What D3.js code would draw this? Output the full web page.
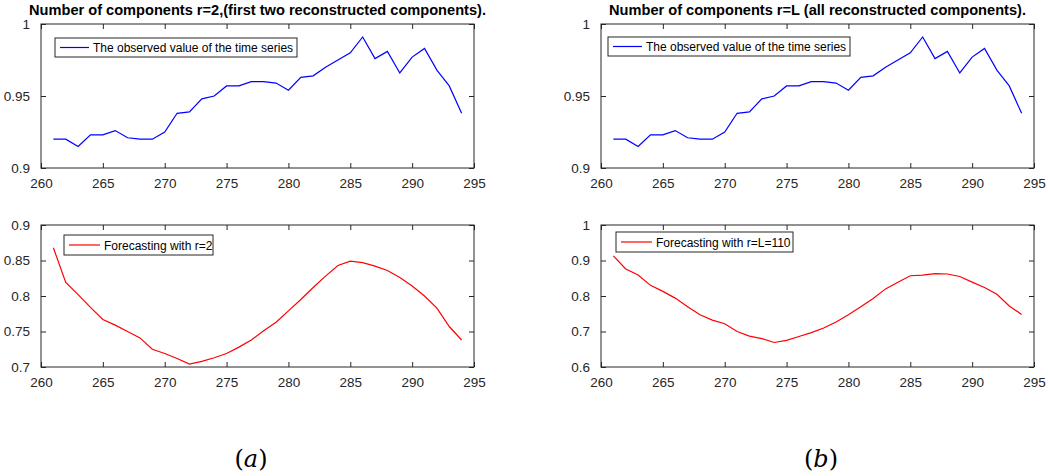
<!DOCTYPE html>
<html><head><meta charset="utf-8">
<script src="https://cdn.jsdelivr.net/npm/d3@7"></script>
<style>body{margin:0;background:#fff}svg{display:block}</style>
</head><body>
<svg id="c" width="1048" height="476"></svg>
<script>
const xYears = d3.range(261, 295);
const observed = [0.920,0.920,0.915,0.923,0.923,0.926,0.921,0.920,0.920,0.925,
  0.938,0.939,0.948,0.950,0.957,0.957,0.960,0.960,0.959,0.954,
  0.963,0.964,0.970,0.975,0.980,0.991,0.976,0.981,0.966,0.977,
  0.983,0.968,0.957,0.938];
const forecastR2 = [0.868,0.819,0.802,0.784,0.767,0.759,0.750,0.741,0.725,0.719,
  0.712,0.704,0.708,0.713,0.719,0.728,0.738,0.751,0.763,0.779,
  0.795,0.812,0.828,0.843,0.849,0.847,0.842,0.836,0.826,0.814,
  0.800,0.783,0.757,0.738];
const forecastRL = [0.913,0.876,0.859,0.830,0.813,0.794,0.770,0.747,0.732,0.722,
  0.700,0.687,0.680,0.669,0.675,0.686,0.697,0.710,0.727,0.747,
  0.770,0.793,0.820,0.839,0.857,0.859,0.863,0.862,0.855,0.839,
  0.824,0.805,0.772,0.748];
const xTicks = [260,265,270,275,280,285,290,295];
const yTicksTop = [0.9,0.95,1];
const yTicksR2 = [0.7,0.75,0.8,0.85,0.9];
const yTicksRL = [0.6,0.7,0.8,0.9,1];
const titles = ["Number of components r=2,(first two reconstructed components).",
                "Number of components r=L (all reconstructed components)."];
const legendLabels = ["The observed value of the time series","Forecasting with r=2","Forecasting with r=L=110"];
const captions = ["(a)","(b)"];

const svg = d3.select("#c");
const axCol = "#262626";
const font = "'Liberation Sans', Arial, sans-serif";

function panel(o){
  const x = d3.scaleLinear().domain([260,295]).range([o.x0,o.x1]);
  const y = d3.scaleLinear().domain(o.ydom).range([o.y1,o.y0]);
  const g = svg.append("g");
  const fmt = v => String(+v.toFixed(2));
  g.append("g").attr("transform",`translate(0,${o.y1})`)
   .call(d3.axisBottom(x).tickValues(xTicks).tickSizeInner(-5).tickSizeOuter(0).tickPadding(10).tickFormat(d3.format("d")))
   .call(a=>{a.select(".domain").remove();});
  g.append("g").attr("transform",`translate(${o.x0},0)`)
   .call(d3.axisLeft(y).tickValues(o.yticks).tickSizeInner(-5).tickSizeOuter(0).tickPadding(11).tickFormat(fmt))
   .call(a=>{a.select(".domain").remove();});
  g.append("g").attr("transform",`translate(0,${o.y0})`)
   .call(d3.axisTop(x).tickValues(xTicks).tickSizeInner(-5).tickSizeOuter(0).tickFormat(""))
   .call(a=>a.select(".domain").remove());
  g.append("g").attr("transform",`translate(${o.x1},0)`)
   .call(d3.axisRight(y).tickValues(o.yticks).tickSizeInner(-5).tickSizeOuter(0).tickFormat(""))
   .call(a=>a.select(".domain").remove());
  g.selectAll(".tick line").attr("stroke",axCol);
  g.selectAll(".tick text").attr("fill",axCol).style("font-family",font).style("font-size","13.5px");
  g.append("rect").attr("x",o.x0).attr("y",o.y0).attr("width",o.x1-o.x0).attr("height",o.y1-o.y0)
   .attr("fill","none").attr("stroke",axCol).attr("stroke-width",1);
  const line = d3.line().x((d,i)=>x(xYears[i])).y(d=>y(d));
  g.append("path").datum(o.data).attr("d",line).attr("fill","none")
   .attr("stroke",o.color).attr("stroke-width",1.2);
  const L = o.leg;
  g.append("rect").attr("x",L.x).attr("y",L.y).attr("width",L.w).attr("height",L.h)
   .attr("fill","#fff").attr("stroke",axCol).attr("stroke-width",1);
  g.append("line").attr("x1",L.x+5).attr("x2",L.x+5+L.lw).attr("y1",L.y+L.h/2).attr("y2",L.y+L.h/2)
   .attr("stroke",o.color).attr("stroke-width",1.2);
  g.append("text").attr("x",L.x+L.lw+9).attr("y",L.y+L.h/2+4.5).text(o.label)
   .attr("fill","#000").style("font-family",font).style("font-size","12px");
  if(o.title){
    g.append("text").attr("x",(o.x0+o.x1)/2).attr("y",15).attr("text-anchor","middle")
     .text(o.title).attr("fill","#000").style("font-family",font).style("font-size","14.6px").style("font-weight","bold");
  }
}

panel({x0:41,x1:474,y0:24,y1:168,ydom:[0.9,1],yticks:yTicksTop,data:observed,color:"#0000ff",
  label:legendLabels[0],title:titles[0],leg:{x:55,y:38,w:242,h:19,lw:29}});
panel({x0:41,x1:474,y0:225,y1:367,ydom:[0.7,0.9],yticks:yTicksR2,data:forecastR2,color:"#ff0000",
  label:legendLabels[1],leg:{x:64,y:235,w:149,h:20,lw:31}});
panel({x0:601,x1:1034,y0:24,y1:168,ydom:[0.9,1],yticks:yTicksTop,data:observed,color:"#0000ff",
  label:legendLabels[0],title:titles[1],leg:{x:608,y:37,w:242,h:19,lw:29}});
panel({x0:601,x1:1034,y0:225,y1:367,ydom:[0.6,1],yticks:yTicksRL,data:forecastRL,color:"#ff0000",
  label:legendLabels[2],leg:{x:616,y:232,w:177,h:20,lw:31}});

svg.selectAll("text.cap").data(captions).enter().append("text").attr("class","cap")
  .attr("x",(d,i)=>i===0?251:821).attr("y",467).attr("text-anchor","middle")
  .style("font-family","'DejaVu Serif', 'Liberation Serif', serif").style("font-size","24px")
  .html(d=>`(<tspan font-style="italic">${d.slice(1,2)}</tspan>)`);
</script>
</body></html>
